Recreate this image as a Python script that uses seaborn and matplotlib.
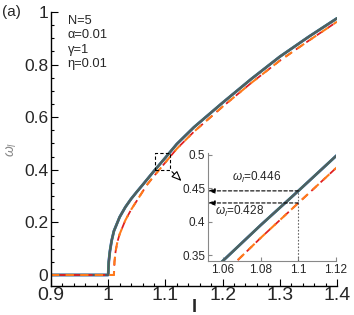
import numpy as np
import pandas as pd
import matplotlib
matplotlib.use("Agg")
import matplotlib.pyplot as plt
import seaborn as sns
from matplotlib.ticker import MultipleLocator

sns.set_style("ticks")
plt.rcParams['font.family'] = ['Liberation Sans', 'DejaVu Sans']
plt.rcParams['mathtext.fontset'] = 'custom'
plt.rcParams['mathtext.rm'] = 'Liberation Sans'
plt.rcParams['mathtext.it'] = 'Liberation Sans:italic'

# ---- data ----
I_sync = [0.90, 1.000, 1.001, 1.003, 1.006, 1.010, 1.020, 1.030, 1.040, 1.050, 1.060,
          1.080, 1.100, 1.120, 1.150, 1.200, 1.250, 1.300, 1.350, 1.400]
w_sync = [0.0, 0.0, 0.05, 0.09, 0.13, 0.167, 0.220, 0.258, 0.289, 0.316, 0.342,
          0.395, 0.446, 0.498, 0.562, 0.655, 0.745, 0.830, 0.905, 0.976]

I_mf = [0.90, 1.010, 1.011, 1.013, 1.016, 1.020, 1.030, 1.040, 1.050, 1.0675,
        1.080, 1.100, 1.120, 1.150, 1.200, 1.250, 1.300, 1.350, 1.400]
w_mf = [0.0, 0.0, 0.05, 0.09, 0.125, 0.155, 0.208, 0.248, 0.282, 0.342,
        0.376, 0.428, 0.480, 0.545, 0.640, 0.730, 0.815, 0.890, 0.963]

params = ["N=5", "α=0.01", "γ=1", "η=0.01"]
marked_I = 1.1
marked_w = [0.446, 0.428]

df_s = pd.DataFrame({"I": I_sync, "w": w_sync})
df_m = pd.DataFrame({"I": I_mf, "w": w_mf})

fig = plt.figure(figsize=(3.54, 3.15), dpi=100)
ax = fig.add_axes([0.144, 0.092, 0.808, 0.870])


def draw_curves(a, scale=1.0):
    sns.lineplot(data=df_s, x="I", y="w", ax=a, color="#4040ff", lw=2.0 * scale,
                 estimator=None, sort=False)
    sns.lineplot(data=df_s, x="I", y="w", ax=a, color="#40b040", lw=1.8 * scale,
                 estimator=None, sort=False)
    sns.lineplot(data=df_s, x="I", y="w", ax=a, color="#505a64", lw=1.5 * scale,
                 estimator=None, sort=False)
    sns.lineplot(data=df_m, x="I", y="w", ax=a, color="#e02020", lw=1.3 * scale,
                 estimator=None, sort=False, linestyle=(2, (4, 3)))
    sns.lineplot(data=df_m, x="I", y="w", ax=a, color="#ff7a1a", lw=1.5 * scale,
                 estimator=None, sort=False, linestyle=(0, (4, 3)))


draw_curves(ax)
ax.set_xlim(0.9, 1.4)
ax.set_ylim(-0.042, 1.0)
ax.set_xticks(np.arange(0.9, 1.401, 0.1))
ax.set_xticklabels(["0.9", "1", "1.1", "1.2", "1.3", "1.4"])
ax.set_yticks(np.arange(0, 1.001, 0.2))
ax.set_yticklabels(["0", "0.2", "0.4", "0.6", "0.8", "1"])
ax.xaxis.set_minor_locator(MultipleLocator(0.02))
ax.yaxis.set_minor_locator(MultipleLocator(0.05))
ax.tick_params(which="both", direction="in", color="black", width=0.8)
ax.tick_params(which="major", length=5)
ax.tick_params(which="minor", length=2.5)
ax.tick_params(axis="x", labelsize=14, pad=1)
ax.tick_params(axis="y", labelsize=12.5, pad=2)
for s in ["top", "right"]:
    ax.spines[s].set_visible(False)
for s in ["left", "bottom"]:
    ax.spines[s].set_linewidth(1.0)
    ax.spines[s].set_color("black")
ax.set_xlabel("I", fontsize=13, fontweight="bold", labelpad=-4)
ax.set_ylabel(r"$\omega_l$", fontsize=10, color="#888888", labelpad=4)

fig.text(0.006, 0.962, "(a)", fontsize=11, va="center", ha="left")
for k, t in enumerate(params):
    ax.text(0.058, 0.99 - k * 0.053, t, transform=ax.transAxes,
            fontsize=9.3, va="top", ha="left")

# dashed box and arrow on main axes
ax.plot([1.081, 1.108, 1.108, 1.081, 1.081], [0.40, 0.40, 0.465, 0.465, 0.40],
        color="black", lw=0.8, ls=(0, (3, 2)))
ax.annotate("", xy=(1.1316, 0.35), xytext=(1.108, 0.40),
            arrowprops=dict(arrowstyle="-|>,head_length=0.6,head_width=0.25",
                            fc="white", ec="black", lw=0.8))

# inset
ins = fig.add_axes([0.5876, 0.1714, 0.3616, 0.343])
ins.set_facecolor("white")
draw_curves(ins, scale=1.0)
ins.set_xlim(1.052, 1.12)
ins.set_ylim(0.3415, 0.5025)
ins.set_xticks([1.06, 1.08, 1.1, 1.12])
ins.set_xticklabels(["1.06", "1.08", "1.1", "1.12"])
ins.set_yticks([0.35, 0.4, 0.45, 0.5])
ins.set_yticklabels(["0.35", "0.4", "0.45", "0.5"])
ins.tick_params(which="both", direction="in", length=3, color="#888888",
                labelsize=8.5, pad=2)
for s in ["top", "right"]:
    ins.spines[s].set_visible(False)
for s in ["left", "bottom"]:
    ins.spines[s].set_color("#888888")
    ins.spines[s].set_linewidth(0.8)
ins.set_xlabel("")
ins.set_ylabel("")
for wv in marked_w:
    ins.annotate("", xy=(1.052, wv), xytext=(marked_I, wv),
                 arrowprops=dict(arrowstyle="-|>,head_length=0.4,head_width=0.15",
                                 color="black", lw=0.8, ls=(0, (3, 2)),
                                 shrinkA=0, shrinkB=0))
ins.plot([marked_I, marked_I], [0.3415, marked_w[0]], color="#666666",
         lw=0.8, ls=(0, (1.5, 1.5)))
ins.text(1.0648, 0.4655, r"$\omega_l$=" + f"{marked_w[0]:.3f}",
         fontsize=8.5, va="center", ha="left")
ins.text(1.0557, 0.415, r"$\omega_l$=" + f"{marked_w[1]:.3f}",
         fontsize=8.5, va="center", ha="left")

fig.savefig("out.png", dpi=100)
